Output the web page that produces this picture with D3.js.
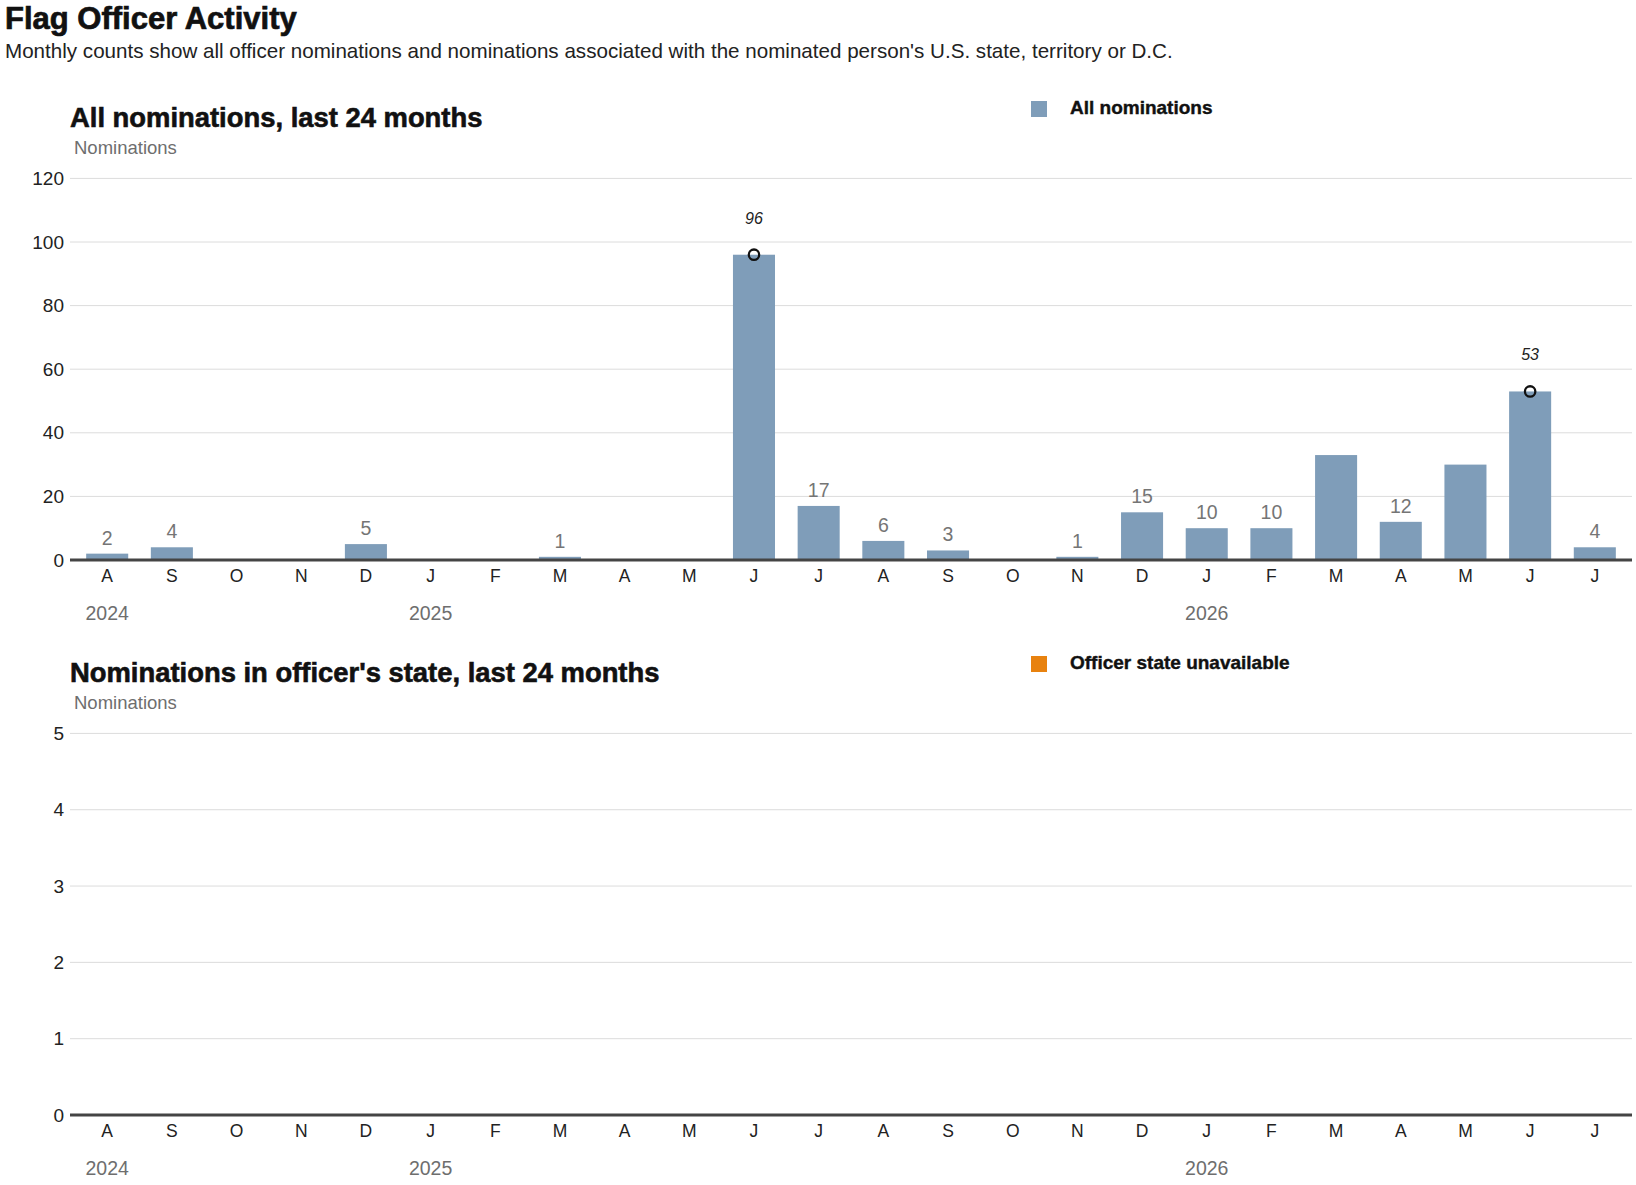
<!DOCTYPE html>
<html>
<head>
<meta charset="utf-8">
<script src="https://cdn.jsdelivr.net/npm/d3@7"></script>
<style>
  body { margin: 0; background: #fff; }
  svg { display: block; }
  text { font-family: "Liberation Sans", Arial, sans-serif; }
  .title { font-size: 31px; font-weight: 700; fill: #111; stroke: #111; stroke-width: 0.7px; }
  .subtitle { font-size: 20.6px; fill: #222; }
  .panel-title { font-size: 27.4px; font-weight: 700; fill: #111; stroke: #111; stroke-width: 0.6px; }
  .unit { font-size: 18.5px; fill: #6e6e6e; }
  .legend-text { font-size: 19px; font-weight: 700; fill: #111; stroke: #111; stroke-width: 0.4px; }
  .ytick { font-size: 19px; fill: #222; }
  .month { font-size: 17.5px; fill: #222; }
  .year { font-size: 19.5px; fill: #6e6e6e; }
  .val { font-size: 19.5px; fill: #757575; }
  .annot { font-family: "Liberation Sans Narrow", "Liberation Sans", sans-serif; font-size: 16px; font-style: italic; fill: #222; }
</style>
</head>
<body>
<svg id="chart" width="1636" height="1185"></svg>
<script>
// meses (ago/2024 a jul/2026)
const months = [
  '2024-08', '2024-09', '2024-10', '2024-11', '2024-12',
  '2025-01', '2025-02', '2025-03', '2025-04', '2025-05', '2025-06', '2025-07',
  '2025-08', '2025-09', '2025-10', '2025-11', '2025-12',
  '2026-01', '2026-02', '2026-03', '2026-04', '2026-05', '2026-06', '2026-07',
];
const monthLetters = ['A', 'S', 'O', 'N', 'D', 'J', 'F', 'M', 'A', 'M', 'J', 'J',
  'A', 'S', 'O', 'N', 'D', 'J', 'F', 'M', 'A', 'M', 'J', 'J'];
const yearLabels = [
  { month: '2024-08', label: '2024' },
  { month: '2025-01', label: '2025' },
  { month: '2026-01', label: '2026' },
];

const allNominations = [2, 4, 0, 0, 5, 0, 0, 1, 0, 0, 96, 17, 6, 3, 0, 1, 15, 10, 10, 33, 12, 30, 53, 4];
const stateNominations = new Array(24).fill(0);

// picos anotados com circulo + rotulo italico; meses sem rotulo de valor
const annotatedMonths = ['2025-06', '2026-06'];
const unlabeledMonths = ['2026-03', '2026-05'];

const allTicks = [0, 20, 40, 60, 80, 100, 120];
const stateTicks = [0, 1, 2, 3, 4, 5];

const BAR_COLOR = '#7f9db9';
const UNAVAILABLE_COLOR = '#e8820f';

const svg = d3.select('#chart');

svg.append('text').attr('class', 'title').attr('x', 5).attr('y', 29).text('Flag Officer Activity');
svg.append('text').attr('class', 'subtitle').attr('x', 5).attr('y', 58)
  .text("Monthly counts show all officer nominations and nominations associated with the nominated person's U.S. state, territory or D.C.");

const x = d3.scaleBand().domain(months).range([70, 1632]).paddingInner(0.35).paddingOuter(0.25);

function drawPanel(cfg) {
  const g = svg.append('g').attr('transform', `translate(0,${cfg.offset})`);
  const y = d3.scaleLinear().domain(cfg.domain).range([560, 178.4]);

  g.append('text').attr('class', 'panel-title').attr('x', 70).attr('y', 127).text(cfg.title);
  g.append('text').attr('class', 'unit').attr('x', 74).attr('y', 154).text('Nominations');

  // legenda
  g.append('rect').attr('x', 1031).attr('y', 101).attr('width', 16).attr('height', 16).attr('fill', cfg.legendColor);
  g.append('text').attr('class', 'legend-text').attr('x', 1070).attr('y', 114).text(cfg.legend);

  // grade + ticks
  g.append('g').selectAll('line').data(cfg.ticks.filter((t) => t !== 0)).join('line')
    .attr('x1', 70).attr('x2', 1632)
    .attr('y1', (d) => y(d)).attr('y2', (d) => y(d))
    .attr('stroke', '#dcdcdc').attr('stroke-width', 1);
  g.append('g').selectAll('text').data(cfg.ticks).join('text')
    .attr('class', 'ytick').attr('x', 64).attr('y', (d) => y(d)).attr('dy', '0.35em')
    .attr('text-anchor', 'end').text((d) => d);

  // barras
  g.append('g').selectAll('rect').data(months).join('rect')
    .attr('x', (d) => x(d)).attr('width', x.bandwidth())
    .attr('y', (d, i) => y(cfg.values[i])).attr('height', (d, i) => y(0) - y(cfg.values[i]))
    .attr('fill', BAR_COLOR);

  // rotulos de valor
  if (cfg.labels) {
    const lab = months.map((m, i) => ({ m, v: cfg.values[i] }))
      .filter((d) => d.v > 0 && !annotatedMonths.includes(d.m) && !unlabeledMonths.includes(d.m));
    g.append('g').selectAll('text').data(lab).join('text')
      .attr('class', 'val').attr('text-anchor', 'middle')
      .attr('x', (d) => x(d.m) + x.bandwidth() / 2).attr('y', (d) => y(d.v) - 9)
      .text((d) => d.v);

    const ann = months.map((m, i) => ({ m, v: cfg.values[i] })).filter((d) => annotatedMonths.includes(d.m));
    g.append('g').selectAll('circle').data(ann).join('circle')
      .attr('cx', (d) => x(d.m) + x.bandwidth() / 2).attr('cy', (d) => y(d.v)).attr('r', 5.2)
      .attr('fill', 'none').attr('stroke', '#111').attr('stroke-width', 2.3);
    g.append('g').selectAll('text').data(ann).join('text')
      .attr('class', 'annot').attr('text-anchor', 'middle')
      .attr('x', (d) => x(d.m) + x.bandwidth() / 2).attr('y', (d) => y(d.v) - 31)
      .text((d) => d.v);
  }

  // linha de base
  g.append('line').attr('x1', 70).attr('x2', 1632).attr('y1', y(0)).attr('y2', y(0))
    .attr('stroke', '#444').attr('stroke-width', 2.8);

  // eixo x: letras dos meses + anos
  g.append('g').selectAll('text').data(months).join('text')
    .attr('class', 'month').attr('text-anchor', 'middle')
    .attr('x', (d) => x(d) + x.bandwidth() / 2).attr('y', 582)
    .text((d, i) => monthLetters[i]);
  g.append('g').selectAll('text').data(yearLabels).join('text')
    .attr('class', 'year').attr('text-anchor', 'middle')
    .attr('x', (d) => x(d.month) + x.bandwidth() / 2).attr('y', 620)
    .text((d) => d.label);
}

drawPanel({
  offset: 0, domain: [0, 120], ticks: allTicks, values: allNominations, labels: true,
  title: 'All nominations, last 24 months', legend: 'All nominations', legendColor: BAR_COLOR,
});
drawPanel({
  offset: 555, domain: [0, 5], ticks: stateTicks, values: stateNominations, labels: false,
  title: "Nominations in officer's state, last 24 months", legend: 'Officer state unavailable',
  legendColor: UNAVAILABLE_COLOR,
});
</script>
</body>
</html>
